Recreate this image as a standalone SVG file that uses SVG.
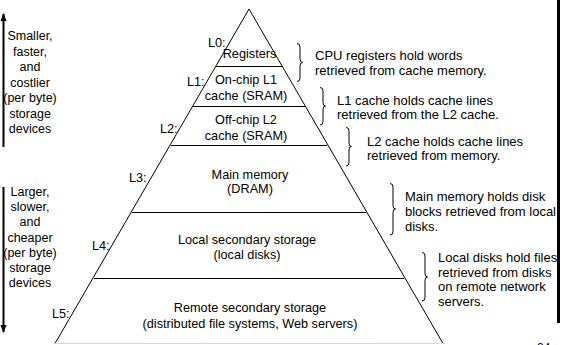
<svg xmlns="http://www.w3.org/2000/svg" width="563" height="345" viewBox="0 0 563 345">
<defs>
<style>
text{font-family:"Liberation Sans",Arial,sans-serif;fill:#000}
.t{font-size:12.7px;text-anchor:middle}
.lv{font-size:12.7px}
.a{font-size:13px}
.s{font-size:12.5px;text-anchor:middle}
.ln{stroke:#000;stroke-width:1;fill:none}
.br{stroke:#000;stroke-width:1;fill:none}
</style>
<marker id="ah" viewBox="0 0 8 8" refX="7" refY="4" markerWidth="8" markerHeight="8" markerUnits="userSpaceOnUse" orient="auto">
<path d="M0,1 L8,4 L0,7 Z" fill="#000"/>
</marker>
</defs>
<rect width="563" height="345" fill="#fff"/>
<g id="pyramid">
<path class="ln" d="M55,343.5 L249,9 L443,343.5"/>
<line x1="55" y1="343.5" x2="445" y2="343.5" stroke="#d8d8d8" stroke-width="1"/>
</g>
<g id="connectors">
<line class="ln" x1="216" y1="66.5" x2="282" y2="66.5"/>
<line class="ln" x1="193" y1="106.5" x2="305" y2="106.5"/>
<line class="ln" x1="171" y1="145.5" x2="327" y2="145.5"/>
<line class="ln" x1="132" y1="212.5" x2="366" y2="212.5"/>
<line class="ln" x1="94" y1="278.5" x2="404" y2="278.5"/>
<line x1="3.5" y1="147" x2="3.5" y2="14" stroke="#000" stroke-width="2" marker-end="url(#ah)"/>
<line x1="3.5" y1="187" x2="3.5" y2="332" stroke="#000" stroke-width="2" marker-end="url(#ah)"/>
<path class="br" d="M297,43.5 Q300,43.5 300,47 L300,59 Q300,62.5 302.5,62.5 Q300,62.5 300,66 L300,78 Q300,81.5 297,81.5"/>
<path class="br" d="M320,87.5 Q323,87.5 323,91 L323,102.5 Q323,106 325.5,106 Q323,106 323,109.5 L323,121.5 Q323,125 320,125"/>
<path class="br" d="M346,127.5 Q349,127.5 349,131 L349,143 Q349,146.5 351.5,146.5 Q349,146.5 349,150 L349,162.5 Q349,166 346,166"/>
<path class="br" d="M390,183.5 Q393,183.5 393,187 L393,205.5 Q393,209 395.5,209 Q393,209 393,212.5 L393,231.5 Q393,235 390,235"/>
<path class="br" d="M422,252.5 Q425,252.5 425,256 L425,273.5 Q425,277 427.5,277 Q425,277 425,280.5 L425,297.5 Q425,301 422,301"/>
</g>
<g id="L0">
<text class="lv" x="208" y="47">L0:</text>
<text class="t" x="249.5" y="58">Registers</text>
</g>
<g id="L1">
<text class="lv" x="187" y="86">L1:</text>
<text class="t" x="246" y="84">On-chip L1</text>
<text class="t" x="246" y="100">cache (SRAM)</text>
</g>
<g id="L2">
<text class="lv" x="160" y="133">L2:</text>
<text class="t" x="246" y="124">Off-chip L2</text>
<text class="t" x="246" y="140">cache (SRAM)</text>
</g>
<g id="L3">
<text class="lv" x="129" y="182">L3:</text>
<text class="t" x="250" y="179">Main memory</text>
<text class="t" x="250" y="193">(DRAM)</text>
</g>
<g id="L4">
<text class="lv" x="92" y="250">L4:</text>
<text class="t" x="247" y="244">Local secondary storage</text>
<text class="t" x="247" y="259">(local disks)</text>
</g>
<g id="L5">
<text class="lv" x="52" y="318">L5:</text>
<text class="t" x="250" y="312">Remote secondary storage</text>
<text class="t" x="250" y="328">(distributed file systems, Web servers)</text>
</g>
<g id="note0">
<text class="a" x="315" y="60">CPU registers hold words</text>
<text class="a" x="315" y="75">retrieved from cache memory.</text>
</g>
<g id="note1">
<text class="a" x="337" y="104.5">L1 cache holds cache lines</text>
<text class="a" x="337" y="119">retrieved from the L2 cache.</text>
</g>
<g id="note2">
<text class="a" x="367" y="145.5">L2 cache holds cache lines</text>
<text class="a" x="367" y="160">retrieved from memory.</text>
</g>
<g id="note3">
<text class="a" x="405" y="201">Main memory holds disk</text>
<text class="a" x="405" y="216">blocks retrieved from local</text>
<text class="a" x="405" y="230.5">disks.</text>
</g>
<g id="note4">
<text class="a" x="438" y="262">Local disks hold files</text>
<text class="a" x="438" y="276.5">retrieved from disks</text>
<text class="a" x="438" y="291">on remote network</text>
<text class="a" x="438" y="305.5">servers.</text>
</g>
<g id="upper-side">
<text class="s" x="30" y="40">Smaller,</text>
<text class="s" x="30" y="55.5">faster,</text>
<text class="s" x="30" y="71">and</text>
<text class="s" x="30" y="86.5">costlier</text>
<text class="s" x="30" y="102">(per byte)</text>
<text class="s" x="30" y="117.5">storage</text>
<text class="s" x="30" y="133">devices</text>
</g>
<g id="lower-side">
<text class="s" x="30" y="196">Larger,</text>
<text class="s" x="30" y="211">slower,</text>
<text class="s" x="30" y="226">and</text>
<text class="s" x="30" y="241.5">cheaper</text>
<text class="s" x="30" y="256.5">(per byte)</text>
<text class="s" x="30" y="271.5">storage</text>
<text class="s" x="30" y="286.5">devices</text>
</g>
<g id="frame">
<rect x="557" y="0" width="3" height="323" fill="#000"/>
<text x="537" y="352" style="font-size:12px">24</text>
</g>
</svg>
